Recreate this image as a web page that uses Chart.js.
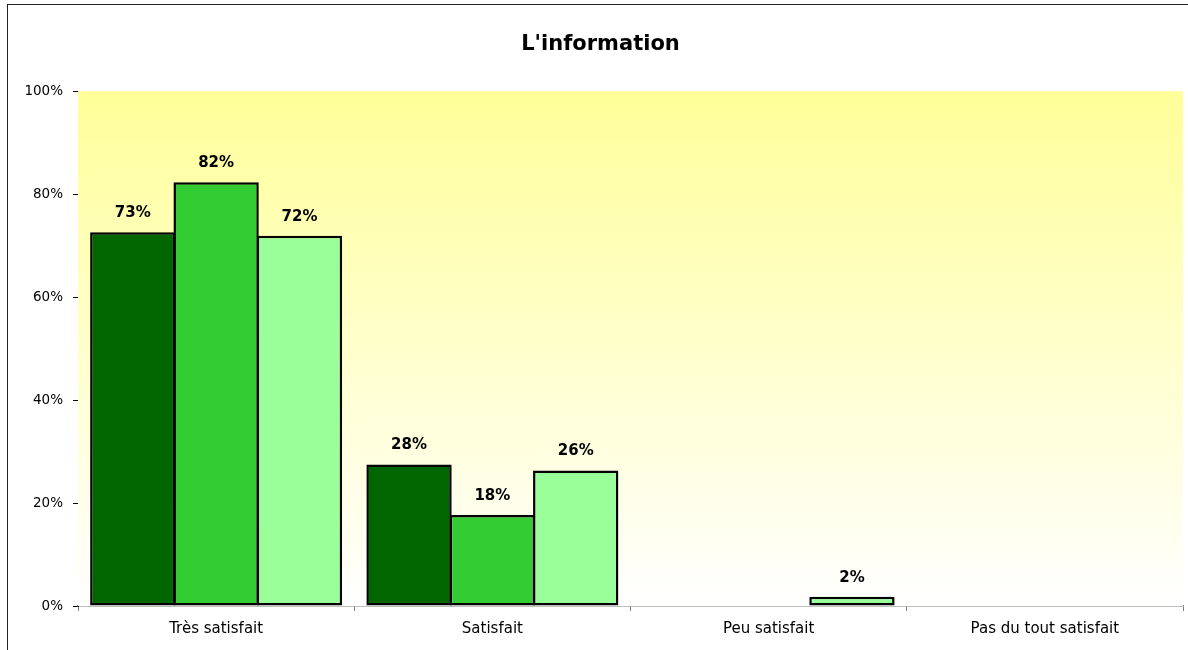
<!DOCTYPE html>
<html>
<head>
<meta charset="utf-8">
<script src="https://cdn.jsdelivr.net/npm/chart.js@4/dist/chart.umd.min.js"></script>
<style>
    html, body { margin: 0; padding: 0; background: #fff; }
    #wrap { position: absolute; left: 0; top: 0; width: 1188px; height: 650px; }
    #cadre { position: absolute; left: 7px; top: 4px; width: 1190px; height: 660px;
        border-left: 1px solid #222; border-top: 1px solid #222; pointer-events: none; }
</style>
</head>
<body>
<div id="wrap"><canvas id="chart" width="1188" height="650"></canvas></div>
<div id="cadre"></div>
<script>
const titre = "L'information";
const categories = ['Très satisfait', 'Satisfait', 'Peu satisfait', 'Pas du tout satisfait'];
// trois séries (cases vides = null)
const serie1 = [72.6, 27.5, null, null];
const serie2 = [82.3, 17.7, null, null];
const serie3 = [71.9, 26.3, 1.8, null];
const couleurs = ['#006600', '#33CC33', '#99FF99'];
const yTicks = [0, 20, 40, 60, 80, 100];

const police = "'DejaVu Sans', sans-serif";

//fond degradé jaune -> blanc
const fondDegrade = {
    id: 'fondDegrade',
    beforeDatasetsDraw(chart) {
        const { ctx, chartArea: { left, right, top, bottom } } = chart;
        const grad = ctx.createLinearGradient(0, top, 0, bottom);
        grad.addColorStop(0, '#FFFF99');
        grad.addColorStop(1, '#FFFFFF');
        ctx.save();
        ctx.fillStyle = grad;
        ctx.fillRect(left, top, right - left, bottom - top);
        ctx.restore();
    }
};
//etiquettes au dessus des barres
const etiquettes = {
    id: 'etiquettes',
    afterDatasetsDraw(chart) {
        const { ctx } = chart;
        ctx.save();
        ctx.font = 'bold 15px ' + police;
        ctx.fillStyle = '#000';
        ctx.textAlign = 'center';
        ctx.textBaseline = 'middle';
        chart.data.datasets.forEach((ds, i) => {
            chart.getDatasetMeta(i).data.forEach((bar, j) => {
                const v = ds.data[j];
                if (v == null) return;
                ctx.fillText(Math.round(v) + '%', bar.x, bar.y - 19);
            });
        });
        ctx.restore();
    }
};

const datasets = [serie1, serie2, serie3].map((d, i) => ({
    label: 'Série ' + (i + 1),
    data: d,
    backgroundColor: couleurs[i],
    borderColor: '#000',
    borderWidth: 2.5,
    borderSkipped: false,
    categoryPercentage: 0.905,
    barPercentage: 1.024
}));

const config = {
    type: 'bar',
    data: { labels: categories, datasets },
    options: {
        responsive: false,
        animation: false,
        layout: { padding: { top: 0, right: 5, bottom: 0, left: 18 } },
        scales: {
            x: {
                grid: { display: true, drawOnChartArea: false, offset: true, tickLength: 5, color: '#808080' },
                border: { color: '#808080', width: 1.5 },
                ticks: { color: '#000', padding: 9, maxRotation: 0, font: { family: police, size: 15 } },
                afterFit(scale) { scale.height = 44; }
            },
            y: {
                min: 0,
                max: 100,
                afterBuildTicks(scale) { scale.ticks = yTicks.map(v => ({ value: v })); },
                grid: { display: true, drawOnChartArea: false, tickLength: 5, color: '#000' },
                border: { color: '#000', width: 1 },
                ticks: { color: '#000', padding: 10, font: { family: police, size: 13.5 }, callback: v => v + '%' },
                afterFit(scale) { scale.width = 60; }
            }
        },
        plugins: {
            legend: { display: false },
            tooltip: { enabled: false },
            title: {
                display: true,
                text: titre,
                color: '#000',
                font: { family: police, size: 21, weight: 'bold', lineHeight: 1.2 },
                padding: { top: 32, bottom: 34 }
            }
        }
    },
    plugins: [fondDegrade, etiquettes]
};
const myChart = new Chart(document.getElementById('chart'), config);
</script>
</body>
</html>
